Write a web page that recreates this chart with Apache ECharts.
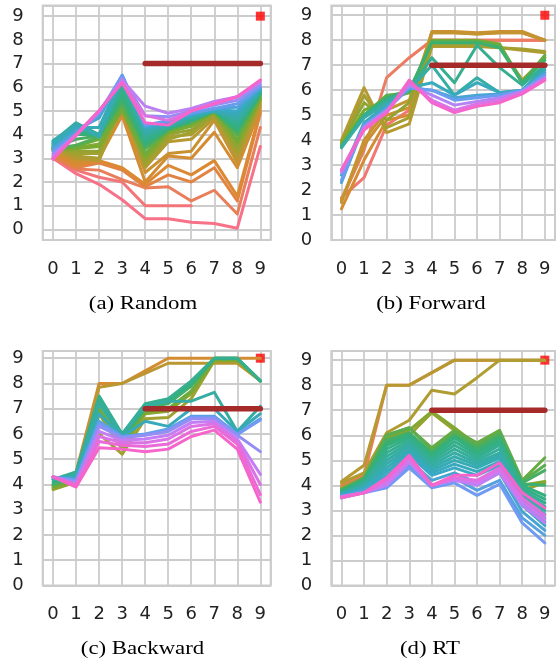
<!DOCTYPE html>
<html><head><meta charset="utf-8">
<script src="https://cdn.jsdelivr.net/npm/echarts@6/dist/echarts.min.js"></script>
<style>html,body{margin:0;padding:0;background:#fff;}#c{width:558px;height:662px;}</style>
</head><body><div id="c"></div>
<script>
// ---------- data ----------
const xValues = [0,1,2,3,4,5,6,7,8,9];
const captions = ['(a) Random', '(b) Forward', '(c) Backward', '(d) RT'];
const thresholdValue = 7;
const thresholdRange = [4, 9];
const targetPoint = [9, 9];

const randomLines = [
  [3.0, 2.35, 1.9, 1.25, 0.45, 0.45, 0.3, 0.25, 0.05, 3.5],
  [3.0, 2.5, 2.2, 2.0, 1.0, 1.0, 1.0, null, null, null],
  [3.05, 2.55, 2.5, 2.1, 1.75, 1.8, 1.2, 1.65, 0.65, 4.3],
  [3.1, 2.6, 2.8, 2.5, 1.8, 2.3, 2.0, 2.6, 1.2, 4.9],
  [3.2, 2.7, 2.9, 2.6, 1.9, 2.7, 2.3, 2.9, 1.4, 5.0],
  [3.3, 2.8, 3.0, 4.8, 2.0, 3.1, 3.0, 4.1, 2.6, 5.1],
  [3.35, 2.9, 3.0, 5.0, 2.4, 3.2, 3.3, 4.6, 2.8, 5.2],
  [3.4, 3.0, 2.9, 5.3, 2.6, 3.7, 3.8, 4.7, 3.0, 5.3],
  [3.45, 3.1, 3.0, 5.5, 2.8, 3.9, 4.0, 4.8, 3.2, 5.4],
  [3.45, 3.2, 3.2, 5.4, 2.7, 3.8, 4.1, 4.85, 3.3, 5.45],
  [3.4, 3.3, 3.3, 5.3, 2.9, 4.0, 4.2, 4.9, 3.4, 5.5],
  [3.35, 3.45, 3.6, 5.0, 3.0, 4.1, 4.4, 5.0, 3.6, 5.5],
  [3.4, 3.4, 3.5, 5.1, 3.1, 4.1, 4.35, 4.95, 3.7, 5.55],
  [3.35, 3.5, 3.8, 5.1, 3.2, 4.2, 4.5, 5.0, 3.8, 5.6],
  [3.4, 3.55, 3.9, 5.3, 3.4, 4.2, 4.5, 5.0, 4.0, 5.7],
  [3.45, 3.8, 3.95, 5.45, 3.5, 4.2, 4.55, 5.0, 4.1, 5.7],
  [3.5, 4.0, 4.0, 5.6, 3.6, 4.25, 4.6, 5.0, 4.2, 5.7],
  [3.55, 4.15, 4.0, 5.8, 3.7, 4.3, 4.6, 5.0, 4.3, 5.75],
  [3.6, 4.3, 4.0, 6.0, 3.8, 4.3, 4.65, 5.0, 4.4, 5.8],
  [3.65, 4.4, 4.0, 6.15, 3.9, 4.3, 4.7, 5.0, 4.5, 5.8],
  [3.7, 4.5, 4.0, 6.3, 4.0, 4.35, 4.7, 5.0, 4.6, 5.8],
  [3.7, 4.45, 3.95, 6.35, 4.1, 4.4, 4.75, 5.0, 4.7, 5.85],
  [3.75, 4.4, 3.9, 6.4, 4.2, 4.4, 4.8, 5.0, 4.8, 5.9],
  [3.6, 4.3, 4.3, 6.45, 4.25, 4.45, 4.8, 5.0, 4.9, 5.9],
  [3.5, 4.2, 4.7, 6.5, 4.3, 4.5, 4.85, 5.05, 5.0, 5.95],
  [3.4, 4.1, 4.8, 6.5, 4.35, 4.55, 4.9, 5.1, 5.15, 6.0],
  [3.3, 4.0, 4.9, 6.5, 4.4, 4.6, 4.9, 5.1, 5.3, 6.0],
  [3.2, 4.0, 4.95, 6.4, 4.8, 4.75, 5.0, 5.25, 5.45, 6.1],
  [3.1, 4.0, 5.0, 6.3, 5.2, 4.9, 5.1, 5.4, 5.6, 6.2],
  [3.0, 3.95, 5.0, 6.2, 4.8, 4.6, 5.0, 5.3, 5.6, 6.3],
  [2.95, 4.0, 5.0, 6.2, 4.5, 4.4, 5.0, 5.3, 5.6, 6.3]
];
const forwardLines = [
  [1.7, 2.5, 4.6, 5.2, 8.0, 8.0, 8.0, 8.0, 8.0, 8.0],
  [1.6, 3.6, 6.5, 7.3, 8.0, 8.0, 8.0, 8.0, 8.0, 8.0],
  [1.25, 3.2, 4.8, 5.0, 8.3, 8.3, 8.25, 8.3, 8.3, 8.0],
  [1.6, 3.8, 5.0, 5.3, 8.35, 8.35, 8.3, 8.35, 8.35, 8.0],
  [1.5, 4.0, 5.2, 5.6, 8.3, 8.3, 8.25, 8.3, 8.3, 8.0],
  [4.0, 6.1, 4.3, 4.65, 7.75, 7.75, 7.75, 7.7, 7.6, 7.5],
  [3.9, 5.8, 4.5, 4.9, 7.8, 7.8, 7.8, 7.7, 7.65, 7.55],
  [3.9, 5.5, 4.8, 5.5, 7.9, 7.9, 7.9, 7.75, 6.4, 7.3],
  [3.8, 5.2, 5.6, 5.9, 8.0, 8.0, 8.0, 7.85, 6.3, 7.3],
  [3.8, 5.0, 5.8, 5.9, 7.95, 7.95, 7.95, 7.8, 6.3, 7.4],
  [3.75, 5.0, 5.7, 6.0, 7.9, 7.9, 7.9, 7.7, 6.3, 7.2],
  [3.7, 5.0, 5.6, 6.0, 7.3, 6.3, 7.8, 6.9, 6.2, 7.0],
  [3.7, 4.9, 5.5, 6.0, 7.0, 5.8, 6.5, 5.9, 6.0, 6.9],
  [2.6, 4.7, 5.4, 6.1, 6.3, 5.8, 6.3, 5.9, 6.0, 6.8],
  [2.3, 4.6, 5.3, 6.1, 6.0, 5.7, 5.8, 5.85, 6.0, 6.7],
  [2.4, 4.6, 5.2, 6.1, 6.0, 5.6, 5.7, 5.8, 6.0, 6.6],
  [2.7, 4.5, 5.2, 6.2, 5.8, 5.4, 5.55, 5.7, 5.95, 6.5],
  [2.8, 4.5, 5.1, 6.3, 5.6, 5.2, 5.45, 5.6, 5.9, 6.45],
  [2.8, 4.4, 5.1, 6.4, 5.5, 5.1, 5.35, 5.5, 5.85, 6.4]
];
const backwardLines = [
  [4.0, 4.5, 8.0, 8.0, 8.5, 9.0, 9.0, 9.0, 9.0, 9.0],
  [3.95, 4.4, 7.85, 8.0, 8.4, 8.8, 8.8, 8.8, 8.8, 8.1],
  [3.8, 4.1, 6.0, 5.2, 6.6, 6.65, 7.4, 8.9, 8.9, 8.1],
  [3.85, 4.1, 6.8, 5.4, 6.8, 6.9, 7.6, 8.9, 8.9, 8.1],
  [3.9, 4.2, 7.0, 5.6, 6.9, 7.0, 7.7, 8.95, 8.95, 8.1],
  [4.0, 4.3, 7.2, 5.8, 7.0, 7.2, 7.9, 9.0, 9.0, 8.1],
  [4.1, 4.4, 7.35, 5.9, 7.1, 7.3, 8.0, 9.0, 9.0, 8.1],
  [4.2, 4.5, 7.5, 6.0, 7.2, 7.4, 8.1, 9.0, 9.0, 8.1],
  [4.2, 4.4, 7.2, 6.0, 7.1, 7.3, 7.3, 7.65, 6.1, 7.1],
  [4.25, 4.3, 6.8, 5.9, 6.5, 6.3, 7.0, 7.0, 6.1, 6.8],
  [4.3, 4.2, 6.5, 5.9, 6.0, 6.2, 6.7, 6.7, 6.0, 6.6],
  [4.3, 4.15, 6.4, 5.88, 5.98, 6.15, 6.65, 6.65, 5.98, 6.55],
  [4.3, 4.1, 6.3, 5.85, 5.95, 6.1, 6.6, 6.6, 5.95, 5.3],
  [4.3, 4.0, 6.1, 5.75, 5.8, 5.95, 6.45, 6.5, 5.8, 4.4],
  [4.3, 4.0, 5.9, 5.65, 5.65, 5.8, 6.3, 6.4, 5.7, 4.0],
  [4.3, 3.95, 5.7, 5.55, 5.5, 5.6, 6.1, 6.3, 5.6, 3.6],
  [4.3, 3.9, 5.45, 5.4, 5.3, 5.4, 5.9, 6.15, 5.4, 3.3]
];
const rtLines = [
  [4.0, 4.4, 8.0, 8.0, 8.5, 9.0, 9.0, 9.0, 9.0, 9.0],
  [4.15, 4.8, 8.0, 8.0, 8.5, 9.0, 9.0, 9.0, 9.0, 9.0],
  [4.1, 4.5, 6.1, 6.6, 7.8, 7.65, 8.3, 9.0, 9.0, 9.0],
  [3.9, 4.3, 5.6, 6.0, 6.9, 6.2, 5.4, 6.0, 3.8, 4.1],
  [3.85, 4.3, 5.9, 6.2, 6.95, 6.3, 5.6, 6.1, 4.0, 4.15],
  [3.8, 4.3, 6.0, 6.3, 5.5, 6.2, 5.7, 6.2, 4.2, 5.1],
  [3.82, 4.3, 6.0, 6.3, 5.4, 6.1, 5.6, 6.1, 4.15, 4.8],
  [3.8, 4.2, 5.8, 6.1, 5.3, 6.0, 5.5, 6.0, 4.1, 4.6],
  [3.78, 4.25, 5.7, 6.05, 5.25, 5.95, 5.4, 5.9, 4.05, 4.0],
  [3.75, 4.2, 5.6, 6.0, 5.2, 5.9, 5.3, 5.8, 4.0, 3.6],
  [3.72, 4.15, 5.45, 5.9, 5.1, 5.75, 5.2, 5.7, 3.9, 3.45],
  [3.7, 4.1, 5.3, 5.8, 5.0, 5.6, 5.1, 5.6, 3.8, 3.3],
  [3.7, 4.05, 5.15, 5.7, 4.9, 5.45, 5.0, 5.45, 3.7, 3.15],
  [3.7, 4.0, 5.0, 5.6, 4.8, 5.3, 4.9, 5.3, 3.6, 3.0],
  [3.68, 3.95, 4.85, 5.5, 4.7, 5.15, 4.8, 5.2, 3.5, 2.85],
  [3.65, 3.9, 4.7, 5.4, 4.6, 5.0, 4.7, 5.1, 3.4, 2.7],
  [3.62, 3.88, 4.55, 5.3, 4.5, 4.85, 4.55, 4.95, 3.3, 2.55],
  [3.6, 3.85, 4.4, 5.2, 4.4, 4.7, 4.4, 4.8, 3.2, 2.4],
  [3.58, 3.8, 4.2, 5.0, 4.2, 4.5, 4.1, 4.5, 2.95, 2.2],
  [3.55, 3.75, 4.0, 4.8, 4.0, 4.3, 3.8, 4.2, 2.7, 2.0],
  [3.5, 3.7, 3.9, 4.7, 3.9, 4.1, 3.6, 4.05, 2.5, 1.7],
  [3.55, 3.7, 4.0, 4.9, 4.0, 4.2, 4.0, 4.5, 3.2, 2.5],
  [3.55, 3.7, 4.1, 5.0, 4.0, 4.25, 4.1, 4.6, 3.35, 2.65],
  [3.55, 3.7, 4.2, 5.1, 4.0, 4.3, 4.2, 4.7, 3.5, 2.8],
  [3.5, 3.7, 4.3, 5.2, 4.0, 4.4, 4.4, 4.9, 3.7, 3.1]
];

// ---------- style ----------
const randomHues = [0,0.02,0.06,0.09,0.11,0.13,0.16,0.2,0.23,0.25,0.27,0.31,0.33,0.35,0.39,0.41,0.44,0.47,0.49,0.51,0.54,0.57,0.6,0.63,0.67,0.72,0.76,0.82,0.87,0.94,1];
const forwardHues = [0.03,0.05,0.13,0.15,0.17,0.2,0.24,0.28,0.33,0.37,0.43,0.5,0.56,0.64,0.7,0.77,0.86,0.93,1];
const backwardHues = [0.13,0.19,0.25,0.3,0.35,0.42,0.46,0.5,0.55,0.63,0.74,0.78,0.82,0.88,0.93,0.97,1];
const rtHues = [0.06,0.2,0.22,0.26,0.31,0.36,0.38,0.41,0.43,0.45,0.48,0.5,0.53,0.55,0.58,0.61,0.64,0.67,0.7,0.73,0.78,0.87,0.9,0.94,1];
const palette = ['#f77189','#dc8932','#ae9d31','#77ab31','#33b07a','#36ada4','#38a9c5','#6e9bf4','#cc7af4','#f565cc'];
function h2r(h){return [1,3,5].map(i=>parseInt(h.substr(i,2),16));}
function hueColor(p){
  const t = p*(palette.length-1);
  const i = Math.min(Math.floor(t), palette.length-2);
  const f = t - i;
  const a = h2r(palette[i]), b = h2r(palette[i+1]);
  const c = a.map((v,k)=>Math.round(v+(b[k]-v)*f));
  return 'rgb('+c.join(',')+')';
}

const panels = [
  {lines: randomLines, hues: randomHues, yMin: -0.45, yMax: 9.45, left: 42.7, top: 5.5, capX: 143, capY: 304},
  {lines: forwardLines, hues: forwardHues, yMin: 0, yMax: 9.39, left: 331.3, top: 5.5, capX: 431, capY: 304},
  {lines: backwardLines, hues: backwardHues, yMin: 0, yMax: 9.285, left: 42.7, top: 351, capX: 142.5, capY: 649},
  {lines: rtLines, hues: rtHues, yMin: 0, yMax: 9.365, left: 331.3, top: 351, capX: 430, capY: 649}
];
const GW = 228, GH = 234.5;
const gridColor = '#cccccc';
const labelFont = {fontSize: 18, fontFamily: 'DejaVu Sans', color: '#222222'};
const intFmt = v => (Math.abs(v - Math.round(v)) < 1e-6) ? String(Math.round(v)) : '';

const grids = [], xAxes = [], yAxes = [], series = [], graphics = [];
panels.forEach((p, k) => {
  grids.push({left: p.left, top: p.top, width: GW, height: GH, show: true,
    borderColor: gridColor, borderWidth: 2, backgroundColor: '#fff', containLabel: false});
  xAxes.push({type: 'value', gridIndex: k, min: -0.45, max: 9.45, splitNumber: 10,
    minInterval: 1, maxInterval: 1,
    axisLine: {show: false}, axisTick: {show: false},
    splitLine: {show: true, lineStyle: {color: gridColor, width: 1.8}},
    axisLabel: Object.assign({margin: 20, formatter: intFmt, showMinLabel: true, showMaxLabel: true}, labelFont)});
  yAxes.push({type: 'value', gridIndex: k, min: p.yMin, max: p.yMax, splitNumber: 10,
    minInterval: 1, maxInterval: 1,
    axisLine: {show: false}, axisTick: {show: false},
    splitLine: {show: true, lineStyle: {color: gridColor, width: 1.8}},
    axisLabel: Object.assign({margin: 19, formatter: intFmt, showMinLabel: true, showMaxLabel: true}, labelFont)});
  series.push({type: 'scatter', xAxisIndex: k, yAxisIndex: k, data: [targetPoint],
    symbol: 'rect', symbolSize: 9, itemStyle: {color: '#ff0000'}, silent: true, z: 2});
  const order = p.lines.map((_, i) => i).sort((a, b) => p.hues[a] - p.hues[b]);
  order.forEach(i => {
    const ln = p.lines[i];
    series.push({type: 'line', xAxisIndex: k, yAxisIndex: k, symbol: 'none', silent: true,
      data: xValues.map((x, j) => [x, ln[j] == null ? null : ln[j]]),
      connectNulls: false, animation: false, z: 3,
      lineStyle: {color: hueColor(p.hues[i]), width: 3, cap: 'round', join: 'round'}});
  });
  series.push({type: 'line', xAxisIndex: k, yAxisIndex: k, symbol: 'none', silent: true,
    data: thresholdRange.map(x => [x, thresholdValue]), z: 4,
    lineStyle: {color: '#a52a2a', width: 5.5, cap: 'round'}});
  graphics.push({type: 'text', x: p.capX, y: p.capY, scaleX: 1.2, scaleY: 1,
    style: {text: captions[k], font: '19px "Liberation Serif"', fill: '#000', align: 'center', verticalAlign: 'middle'}});
});

const chart = echarts.init(document.getElementById('c'), null, {renderer: 'canvas'});
chart.setOption({animation: false, backgroundColor: '#ffffff', grid: grids, xAxis: xAxes, yAxis: yAxes, series: series, graphic: graphics});
</script></body></html>
